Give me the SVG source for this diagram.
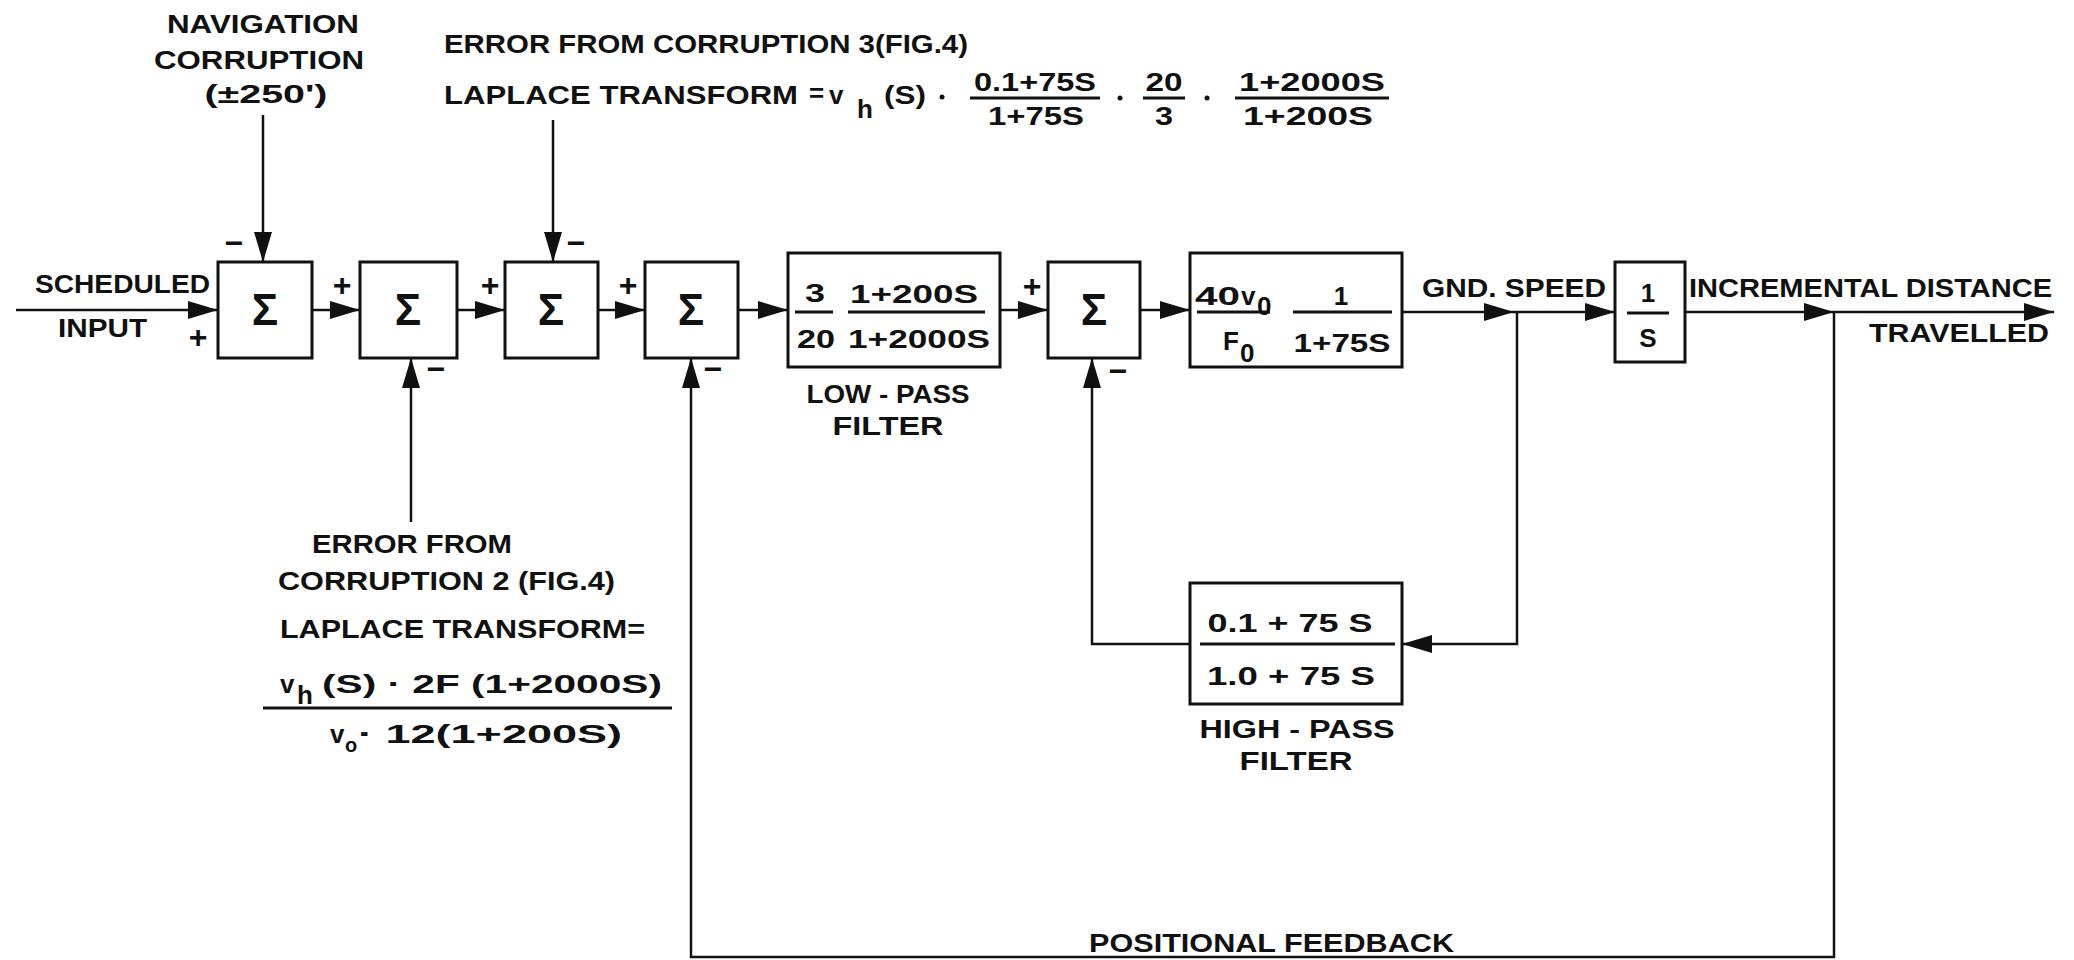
<svg xmlns="http://www.w3.org/2000/svg" width="2074" height="960" viewBox="0 0 2074 960">
<style>
.t{font-family:"Liberation Sans",Arial,sans-serif;font-weight:bold;font-size:26px;fill:#111}
.m{text-anchor:middle}
.sig{font-family:"Liberation Sans",Arial,sans-serif;font-weight:bold;font-size:44px;fill:#111;text-anchor:middle}
.pm{font-family:"Liberation Sans",Arial,sans-serif;font-weight:bold;font-size:32px;fill:#111;text-anchor:middle}
.sub{font-size:20px}
.box{fill:#fff;stroke:#111;stroke-width:3}
.ln{fill:none;stroke:#111;stroke-width:2.5}
.fr{stroke:#111;stroke-width:3}
.arr{fill:none;stroke:#111;stroke-width:2.5;marker-end:url(#ah)}
</style>
<defs>
<marker id="ah" markerUnits="userSpaceOnUse" markerWidth="30" markerHeight="18" refX="30" refY="9" orient="auto">
<path d="M0,0 L30,9 L0,18 Z" fill="#111"/>
</marker>
</defs>
<rect width="2074" height="960" fill="#fff"/>

<g id="connectors">
<path class="arr" d="M16,310 H218"/>
<path class="arr" d="M312,310 H360"/>
<path class="arr" d="M457,310 H505"/>
<path class="arr" d="M598,310 H645"/>
<path class="arr" d="M738,310 H788"/>
<path class="arr" d="M1000,310 H1048"/>
<path class="arr" d="M1140,310 H1190"/>
<path class="arr" d="M1402,312 H1514"/>
<path class="arr" d="M1514,312 H1615"/>
<path class="arr" d="M1685,312 H1834"/>
<path class="arr" d="M1834,312 H2054"/>
<path class="arr" d="M263,115 V262"/>
<path class="arr" d="M553,120 V262"/>
<path class="arr" d="M411,522 V358"/>
<path class="arr" d="M1517,312 V644 H1402"/>
<path class="arr" d="M1190,644 H1092 V358"/>
<path class="arr" d="M1834,312 V957 H691 V358"/>
</g>

<g id="sum1">
<rect class="box" x="218" y="262" width="94" height="96"/>
<text class="sig" x="265" y="325">Σ</text>
<text class="pm" x="234" y="254">−</text>
<text class="pm" x="198" y="348">+</text>
</g>
<g id="sum2">
<rect class="box" x="360" y="262" width="97" height="96"/>
<text class="sig" x="408" y="325">Σ</text>
<text class="pm" x="342" y="296">+</text>
<text class="pm" x="436" y="380">−</text>
</g>
<g id="sum3">
<rect class="box" x="505" y="262" width="93" height="96"/>
<text class="sig" x="551" y="325">Σ</text>
<text class="pm" x="490" y="296">+</text>
<text class="pm" x="576" y="254">−</text>
</g>
<g id="sum4">
<rect class="box" x="645" y="262" width="93" height="96"/>
<text class="sig" x="691" y="325">Σ</text>
<text class="pm" x="628" y="296">+</text>
<text class="pm" x="713" y="380">−</text>
</g>
<g id="lowpass">
<rect class="box" x="788" y="253" width="212" height="114"/>
<text class="t m" x="815" y="302" textLength="20" lengthAdjust="spacingAndGlyphs">3</text>
<line class="fr" x1="795" y1="312" x2="833" y2="312"/>
<text class="t m" x="816" y="348" textLength="38" lengthAdjust="spacingAndGlyphs">20</text>
<text class="t m" x="914" y="303" textLength="128" lengthAdjust="spacingAndGlyphs">1+200S</text>
<line class="fr" x1="848" y1="312" x2="985" y2="312"/>
<text class="t m" x="919" y="348" textLength="142" lengthAdjust="spacingAndGlyphs">1+2000S</text>
<text class="t m" x="888" y="403" textLength="163" lengthAdjust="spacingAndGlyphs">LOW - PASS</text>
<text class="t m" x="888" y="435" textLength="111" lengthAdjust="spacingAndGlyphs">FILTER</text>
</g>
<g id="sum5">
<rect class="box" x="1048" y="262" width="92" height="96"/>
<text class="sig" x="1094" y="325">Σ</text>
<text class="pm" x="1032" y="297">+</text>
<text class="pm" x="1118" y="382">−</text>
</g>
<g id="gain">
<rect class="box" x="1190" y="253" width="212" height="114"/>
<text class="t" x="1195" y="305" textLength="45" lengthAdjust="spacingAndGlyphs">40</text>
<text class="t" x="1241" y="305">v</text>
<text class="t" x="1257" y="315" font-size="22">0</text>
<line class="fr" x1="1197" y1="312" x2="1270" y2="312"/>
<text class="t" x="1223" y="350">F</text>
<text class="t" x="1240" y="362" font-size="22">0</text>
<text class="t m" x="1341" y="305">1</text>
<line class="fr" x1="1293" y1="312" x2="1392" y2="312"/>
<text class="t m" x="1342" y="352" textLength="97" lengthAdjust="spacingAndGlyphs">1+75S</text>
</g>
<g id="integrator">
<rect class="box" x="1615" y="262" width="70" height="100"/>
<text class="t m" x="1648" y="302">1</text>
<line class="fr" x1="1627" y1="313" x2="1669" y2="313"/>
<text class="t m" x="1648" y="347">S</text>
</g>
<g id="highpass">
<rect class="box" x="1190" y="583" width="212" height="121"/>
<text class="t m" x="1290" y="632" textLength="165" lengthAdjust="spacingAndGlyphs">0.1 + 75 S</text>
<line class="fr" x1="1200" y1="644" x2="1395" y2="644"/>
<text class="t m" x="1291" y="685" textLength="168" lengthAdjust="spacingAndGlyphs">1.0 + 75 S</text>
<text class="t m" x="1297" y="738" textLength="195" lengthAdjust="spacingAndGlyphs">HIGH - PASS</text>
<text class="t m" x="1296" y="770" textLength="113" lengthAdjust="spacingAndGlyphs">FILTER</text>
</g>

<g id="labels">
<text class="t m" x="263" y="33" textLength="192" lengthAdjust="spacingAndGlyphs">NAVIGATION</text>
<text class="t m" x="259" y="69" textLength="210" lengthAdjust="spacingAndGlyphs">CORRUPTION</text>
<text class="t m" x="266" y="103" textLength="123" lengthAdjust="spacingAndGlyphs">(±250')</text>
<text class="t" x="444" y="53" textLength="524" lengthAdjust="spacingAndGlyphs">ERROR FROM CORRUPTION 3(FIG.4)</text>
<text class="t" x="444" y="104" textLength="354" lengthAdjust="spacingAndGlyphs">LAPLACE TRANSFORM</text>
<text class="t" x="809" y="102" font-size="20">=</text>
<text class="t" x="829" y="104">v</text>
<text class="t" x="857" y="118">h</text>
<text class="t" x="884" y="104" textLength="42" lengthAdjust="spacingAndGlyphs">(S)</text>
<circle cx="942" cy="97" r="2.5" fill="#111"/>
<text class="t m" x="1035" y="91" textLength="122" lengthAdjust="spacingAndGlyphs">0.1+75S</text>
<line class="fr" x1="970" y1="98" x2="1100" y2="98"/>
<text class="t m" x="1036" y="125" textLength="96" lengthAdjust="spacingAndGlyphs">1+75S</text>
<circle cx="1120" cy="98" r="2.5" fill="#111"/>
<text class="t m" x="1164" y="91" textLength="37" lengthAdjust="spacingAndGlyphs">20</text>
<line class="fr" x1="1143" y1="98" x2="1185" y2="98"/>
<text class="t m" x="1164" y="125" textLength="18" lengthAdjust="spacingAndGlyphs">3</text>
<circle cx="1207" cy="98" r="2.5" fill="#111"/>
<text class="t m" x="1312" y="91" textLength="146" lengthAdjust="spacingAndGlyphs">1+2000S</text>
<line class="fr" x1="1235" y1="98" x2="1389" y2="98"/>
<text class="t m" x="1308" y="125" textLength="130" lengthAdjust="spacingAndGlyphs">1+200S</text>

<text class="t" x="35" y="293" textLength="175" lengthAdjust="spacingAndGlyphs">SCHEDULED</text>
<text class="t" x="58" y="337" textLength="89" lengthAdjust="spacingAndGlyphs">INPUT</text>
<text class="t" x="1422" y="297" textLength="184" lengthAdjust="spacingAndGlyphs">GND. SPEED</text>
<text class="t" x="1689" y="297" textLength="363" lengthAdjust="spacingAndGlyphs">INCREMENTAL DISTANCE</text>
<text class="t" x="1869" y="342" textLength="180" lengthAdjust="spacingAndGlyphs">TRAVELLED</text>

<text class="t" x="312" y="553" textLength="200" lengthAdjust="spacingAndGlyphs">ERROR FROM</text>
<text class="t" x="278" y="590" textLength="337" lengthAdjust="spacingAndGlyphs">CORRUPTION 2 (FIG.4)</text>
<text class="t" x="280" y="638" textLength="365" lengthAdjust="spacingAndGlyphs">LAPLACE TRANSFORM=</text>
<text class="t" x="280" y="693">v</text>
<text class="t" x="297" y="704">h</text>
<text class="t" x="322" y="693" textLength="340" lengthAdjust="spacingAndGlyphs">(S) · 2F (1+2000S)</text>
<line class="fr" x1="263" y1="708" x2="672" y2="708"/>
<text class="t" x="330" y="743">v</text>
<text class="t sub" x="345" y="752">o</text>
<text class="t" x="358" y="743" textLength="264" lengthAdjust="spacingAndGlyphs">· 12(1+200S)</text>

<text class="t" x="1089" y="952" textLength="365" lengthAdjust="spacingAndGlyphs">POSITIONAL FEEDBACK</text>
</g>
</svg>
